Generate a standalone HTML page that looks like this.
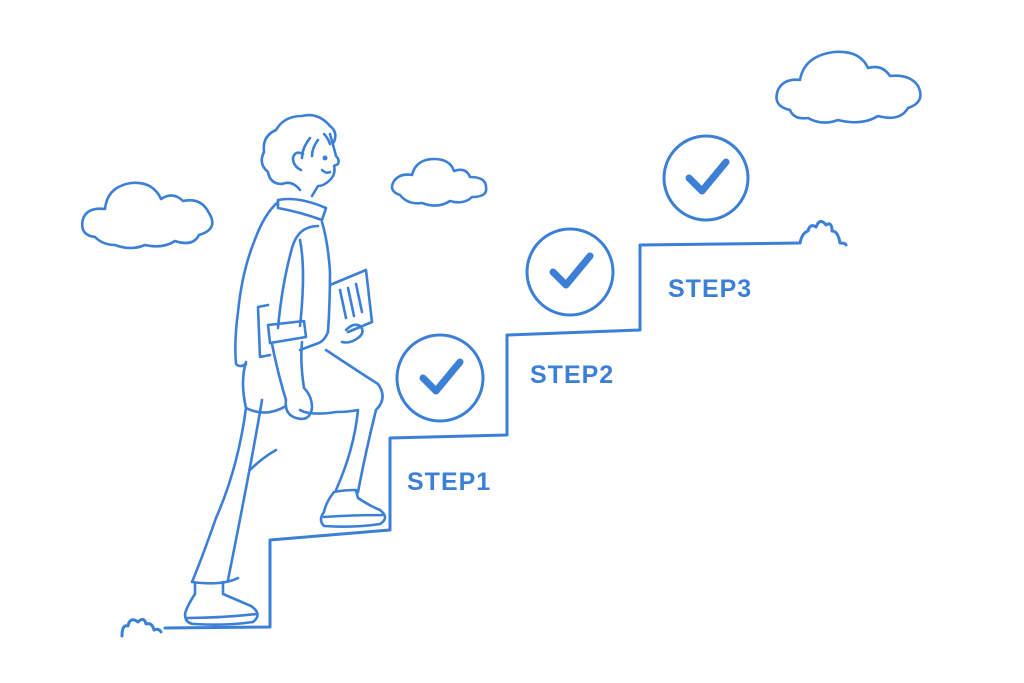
<!DOCTYPE html>
<html><head><meta charset="utf-8"><style>
html,body{margin:0;padding:0;background:#fff;}
svg{display:block}
text{font-family:"Liberation Sans",sans-serif;font-weight:bold;fill:#3b7fd6;letter-spacing:1px}
</style></head><body>
<svg width="1024" height="683" viewBox="0 0 1024 683">
<g fill="none" stroke="#3b7fd6" stroke-width="3" stroke-linecap="round" stroke-linejoin="round">
<!-- stairs -->
<path d="M165 628 L270 627 L270 540 L390 530 L390 438 L507 435 L507 335 L640 330 L640 245 L800 243"/>
<path d="M800 243 q2 -10 8 -12 q2 -8 8 -4 q4 -10 10 -2 q6 -4 6 6 q6 0 8 12 q6 0 6 2"/>
<path d="M122 636 q0 -12 6 -10 q2 -10 10 -4 q6 -6 8 2 q6 -2 8 6 q5 -2 7 2"/>
<!-- circles -->
<circle cx="440" cy="378" r="43"/><circle cx="570" cy="272" r="43"/><circle cx="706" cy="178" r="42"/>
</g>
<g fill="none" stroke="#3b7fd6" stroke-width="7" stroke-linecap="round" stroke-linejoin="round">
<path d="M423 378 L436 391 L460 362"/><path d="M553 272 L566 285 L590 256"/><path d="M689 178 L702 191 L726 162"/>
</g>
<text x="407" y="490" font-size="25">STEP1</text>
<text x="530" y="383" font-size="25">STEP2</text>
<text x="668" y="297" font-size="25">STEP3</text>
<g fill="none" stroke="#3b7fd6" stroke-width="2.6" stroke-linecap="round" stroke-linejoin="round">
<!-- clouds -->
<path d="M95 237 q-16 -2 -12 -18 q4 -12 22 -10 q2 -22 26 -26 q22 -2 30 16 q12 -8 22 2 q18 -4 26 12 q10 16 -10 22 q-6 12 -24 6 q-12 8 -30 4 q-14 6 -30 0 q-12 0 -20 -8z"/>
<path d="M400 195 q-12 -4 -6 -14 q6 -8 18 -6 q4 -16 22 -16 q16 0 20 12 q12 -4 16 6 q16 0 16 10 q2 10 -14 10 q-8 8 -22 4 q-12 8 -28 2 q-14 2 -22 -8z"/>
<path d="M790 110 q-18 -4 -12 -20 q6 -12 22 -10 q4 -24 34 -28 q26 -2 34 16 q14 -4 22 8 q20 -2 28 10 q8 16 -10 22 q-8 14 -30 8 q-16 10 -40 4 q-16 6 -30 -2 q-14 2 -18 -8z"/>
<!-- person head -->
<path d="M300 190 q-8 -10 -18 -6 q-12 0 -14 -12 q-10 -8 -4 -20 q-2 -16 12 -22 q8 -14 26 -14 q16 -4 28 10 q8 6 4 16"/>
<path d="M330 134 q4 14 6 22 q4 4 2 8 l-4 2 q2 8 -4 14 q-6 6 -12 6 L312 196"/>
<path d="M301 170 q-8 -4 -8 -12 q2 -8 10 -4"/>
<path d="M318 140 q-6 8 -6 16 M310 138 q-8 10 -8 20 M324 134 q4 4 6 10"/>
<path d="M322 170 q4 4 8 2"/>
<circle cx="325" cy="158" r="1.2" fill="#3b7fd6"/>
<!-- collar and torso -->
<path d="M278 200 q20 -4 48 8 l-4 12 q-22 -8 -44 -12z"/>
<path d="M278 202 q-14 12 -24 40 q-12 30 -16 70 q-4 30 -2 52 q4 4 10 0"/>
<path d="M322 222 q6 20 8 50 q0 30 -2 60 q-4 10 -12 12 L300 350"/>
<!-- arm -->
<path d="M318 226 q-20 0 -26 22 q-10 36 -14 80 M300 240 q6 30 0 86"/>
<path d="M268 325 l36 -4 l2 16 l-36 6z"/>
<path d="M272 344 q6 30 14 56 q-2 14 10 18 q14 4 16 -10 q0 -12 -8 -20 q-4 -26 -2 -46"/>
<!-- book -->
<path d="M268 305 l-10 2 l2 50 l10 -2"/>
<!-- document -->
<path d="M330 285 L366 270 L372 322 L348 332"/>
<path d="M340 290 l6 28 M348 288 l6 28 M356 284 l6 28"/>
<path d="M346 330 q8 -8 14 -4 q6 6 -2 12 q-8 6 -16 4"/>
<!-- pants -->
<path d="M246 362 q-6 20 0 46 q-8 60 -30 110 q-14 40 -24 64 q30 4 46 -4"/>
<path d="M300 410 q10 6 36 2 q12 0 22 -2 q-4 40 -22 80"/>
<path d="M326 350 q30 20 52 34 q10 14 -2 26 q-10 40 -18 82"/>
<path d="M262 400 q-10 60 -34 180 M246 408 q20 10 40 -2 M250 470 q12 -12 26 -20"/>
<!-- shoes -->
<path d="M334 492 q-8 10 -10 20 q-6 8 0 14 q30 2 56 -2 q10 -6 0 -14 q-10 -4 -22 -12 l-2 -8 q-12 0 -22 2z M324 517 q28 -2 58 -2"/>
<path d="M195 584 l0 10 q-8 12 -10 20 q0 10 10 10 q30 2 58 -2 q10 -8 -2 -16 q-14 -6 -28 -12 l0 -12 M187 618 q34 0 70 -4"/>
</g>
</svg>
</body></html>
